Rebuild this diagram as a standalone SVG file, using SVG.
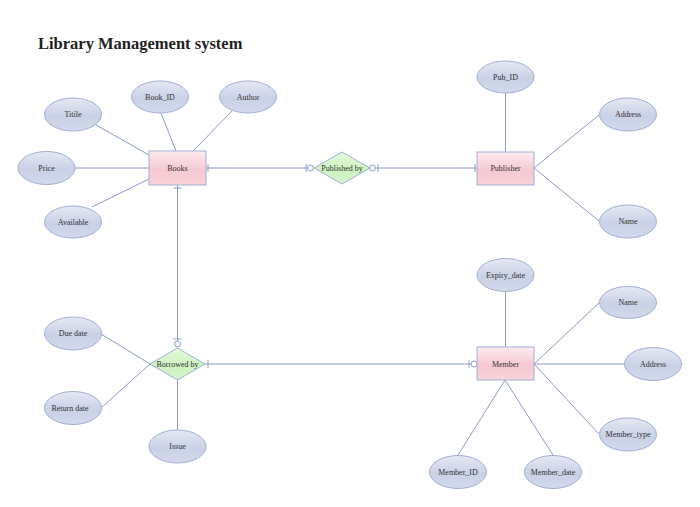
<svg xmlns="http://www.w3.org/2000/svg" width="700" height="507" viewBox="0 0 700 507">
<defs>
<linearGradient id="gE" x1="0" y1="0" x2="0" y2="1">
<stop offset="0" stop-color="#e6e9f3"/>
<stop offset="0.55" stop-color="#c9d1e6"/>
<stop offset="1" stop-color="#d3d9eb"/>
</linearGradient>
<linearGradient id="gR" x1="0" y1="0" x2="0" y2="1">
<stop offset="0" stop-color="#fcebee"/>
<stop offset="0.55" stop-color="#f6c9d2"/>
<stop offset="1" stop-color="#f8d3da"/>
</linearGradient>
<linearGradient id="gD" x1="0" y1="0" x2="0" y2="1">
<stop offset="0" stop-color="#e6f9dd"/>
<stop offset="0.55" stop-color="#cdf2bf"/>
<stop offset="1" stop-color="#d6f4ca"/>
</linearGradient>
</defs>
<style>
.e{fill:url(#gE);stroke:#a3b0d6;stroke-width:1}
.r{fill:url(#gR);stroke:#a3b0d6;stroke-width:1}
.d{fill:url(#gD);stroke:#a3b0d6;stroke-width:1}
.l{stroke:#8d9cc6;stroke-width:1;fill:none}
.c{fill:#fff;stroke:#8d9cc6;stroke-width:1}
text{font-family:"Liberation Serif","Times New Roman",serif;font-size:8px;fill:#333;text-anchor:middle;dominant-baseline:central}
.t{font-size:16.5px;font-weight:bold;text-anchor:start;dominant-baseline:auto;fill:#222}
</style>
<rect width="700" height="507" fill="#fff"/>
<text class="t" x="38" y="49">Library Management system</text>
<g id="connectors">
<line class="l" x1="96" y1="125" x2="149" y2="155"/>
<line class="l" x1="161" y1="113" x2="176" y2="151"/>
<line class="l" x1="233" y1="110" x2="193" y2="151"/>
<line class="l" x1="75" y1="168" x2="149" y2="168"/>
<line class="l" x1="92" y1="207" x2="149" y2="179"/>
<line class="l" x1="206" y1="168" x2="307" y2="168"/>
<line class="l" x1="208" y1="164" x2="208" y2="172"/>
<line class="l" x1="306" y1="164" x2="306" y2="172"/>
<circle class="c" cx="310.5" cy="168" r="3"/>
<line class="l" x1="376" y1="168" x2="477" y2="168"/>
<circle class="c" cx="372.5" cy="168" r="3"/>
<line class="l" x1="378" y1="164" x2="378" y2="172"/>
<line class="l" x1="475" y1="164" x2="475" y2="172"/>
<line class="l" x1="505.5" y1="93" x2="505.5" y2="152"/>
<line class="l" x1="534" y1="168" x2="599" y2="115"/>
<line class="l" x1="534" y1="168" x2="599" y2="221"/>
<line class="l" x1="177.5" y1="185" x2="177.5" y2="341"/>
<line class="l" x1="173.5" y1="188" x2="181.5" y2="188"/>
<line class="l" x1="173.5" y1="339" x2="181.5" y2="339"/>
<circle class="c" cx="177.5" cy="344" r="3"/>
<line class="l" x1="205" y1="364" x2="471" y2="364"/>
<line class="l" x1="208" y1="360" x2="208" y2="368"/>
<line class="l" x1="469" y1="360" x2="469" y2="368"/>
<circle class="c" cx="474" cy="364" r="3"/>
<line class="l" x1="101" y1="334" x2="150" y2="364"/>
<line class="l" x1="101" y1="408" x2="150" y2="364"/>
<line class="l" x1="177.5" y1="380" x2="177.5" y2="430"/>
<line class="l" x1="505.5" y1="291" x2="505.5" y2="347"/>
<line class="l" x1="534" y1="364" x2="599" y2="303"/>
<line class="l" x1="534" y1="364" x2="624" y2="364"/>
<line class="l" x1="534" y1="364" x2="599" y2="434"/>
<line class="l" x1="505" y1="380" x2="458" y2="455"/>
<line class="l" x1="505" y1="380" x2="553" y2="455"/>
</g>
<g id="books"><rect class="r" x="149" y="151" width="57" height="34"/><text x="177.5" y="168">Books</text></g>
<g id="title"><ellipse class="e" cx="73" cy="114.5" rx="28.5" ry="16.5"/><text x="73" y="114.5">Titile</text></g>
<g id="book_id"><ellipse class="e" cx="160" cy="97" rx="28.5" ry="16"/><text x="160" y="97">Book_ID</text></g>
<g id="author"><ellipse class="e" cx="248" cy="97" rx="28.5" ry="16"/><text x="248" y="97">Author</text></g>
<g id="price"><ellipse class="e" cx="46.5" cy="168" rx="28.5" ry="16.5"/><text x="46.5" y="168">Price</text></g>
<g id="available"><ellipse class="e" cx="73" cy="222" rx="28.5" ry="16"/><text x="73" y="222">Available</text></g>
<g id="published_by"><polygon class="d" points="342,152 370,168 342,184 314,168"/><text x="342" y="168">Published by</text></g>
<g id="publisher"><rect class="r" x="477" y="152" width="57" height="33"/><text x="505.5" y="168">Publisher</text></g>
<g id="pub_id"><ellipse class="e" cx="505.5" cy="77" rx="28.5" ry="16"/><text x="505.5" y="77">Pub_ID</text></g>
<g id="pub_address"><ellipse class="e" cx="628" cy="114.5" rx="28.5" ry="16.5"/><text x="628" y="114.5">Address</text></g>
<g id="pub_name"><ellipse class="e" cx="628" cy="221.5" rx="28.5" ry="16.5"/><text x="628" y="221.5">Name</text></g>
<g id="borrowed_by"><polygon class="d" points="177.5,348 205,364 177.5,380 150,364"/><text x="177.5" y="364">Borrowed by</text></g>
<g id="due_date"><ellipse class="e" cx="73" cy="333.5" rx="28.5" ry="16.5"/><text x="73" y="333.5">Due date</text></g>
<g id="return_date"><ellipse class="e" cx="73" cy="408" rx="28.5" ry="16.5"/><text x="70" y="408">Return date</text></g>
<g id="issue"><ellipse class="e" cx="177.5" cy="446.5" rx="28.5" ry="16.5"/><text x="177.5" y="446.5">Issue</text></g>
<g id="member"><rect class="r" x="477" y="347" width="57" height="33"/><text x="505.5" y="364">Member</text></g>
<g id="expiry_date"><ellipse class="e" cx="505.5" cy="275" rx="28.5" ry="16.5"/><text x="505.5" y="275">Expiry_date</text></g>
<g id="mem_name"><ellipse class="e" cx="628" cy="302.5" rx="28.5" ry="16"/><text x="628" y="302.5">Name</text></g>
<g id="mem_address"><ellipse class="e" cx="653" cy="364" rx="28.5" ry="16.5"/><text x="653" y="364">Address</text></g>
<g id="member_type"><ellipse class="e" cx="628" cy="434.5" rx="28.5" ry="16.5"/><text x="628" y="434.5">Member_type</text></g>
<g id="member_id"><ellipse class="e" cx="458" cy="472" rx="28.5" ry="16.5"/><text x="458" y="472">Member_ID</text></g>
<g id="member_date"><ellipse class="e" cx="553" cy="472" rx="28.5" ry="16.5"/><text x="553" y="472">Member_date</text></g>
</svg>
